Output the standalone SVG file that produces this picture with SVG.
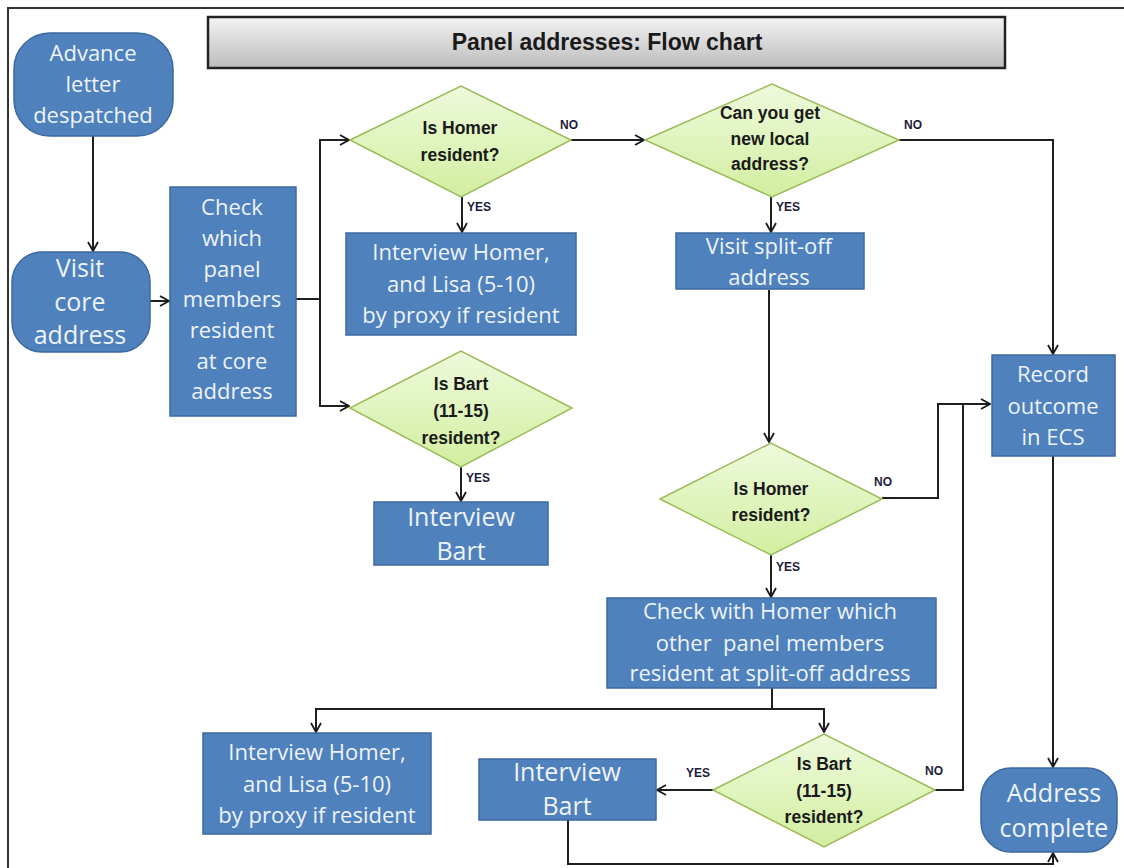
<svg xmlns="http://www.w3.org/2000/svg" width="1124" height="868" viewBox="0 0 1124 868">
<defs>
<linearGradient id="gTitle" x1="0" y1="0" x2="0" y2="1"><stop offset="0" stop-color="#f4f4f4"/><stop offset="1" stop-color="#bcbcbc"/></linearGradient>
<linearGradient id="gDia" x1="0" y1="0" x2="0" y2="1"><stop offset="0" stop-color="#eefadc"/><stop offset="1" stop-color="#d2eea0"/></linearGradient>
<marker id="arr" viewBox="0 0 12 12" refX="11" refY="6" markerWidth="12" markerHeight="12" markerUnits="userSpaceOnUse" orient="auto"><path d="M2,1 L11,6 L2,11" fill="none" stroke="#1a1a1a" stroke-width="1.8"/></marker>
</defs>
<style>
.box{fill:#4f81bd;stroke:#3c6a9f;stroke-width:1.5}
.dia{fill:url(#gDia);stroke:#9bbb59;stroke-width:1.5}
.bt{font-family:"Open Sans","Liberation Sans",Arial,sans-serif;fill:#eef3fa;text-anchor:middle;font-size:22px}
.bt.big{font-size:25px}
.dt{font-family:"Liberation Sans",Arial,sans-serif;fill:#1a1a1a;text-anchor:middle;font-size:17.5px;font-weight:bold}
.lb{font-family:"Liberation Sans",Arial,sans-serif;fill:#1c1c3a;font-size:12px;font-weight:bold}
.cn{fill:none;stroke:#1f1f1f;stroke-width:2}
</style>
<rect width="1124" height="868" fill="#ffffff"/>
<path d="M8,868 L8,8 L1124,8" fill="none" stroke="#333" stroke-width="2"/>
<g id="title">
<rect x="208" y="17" width="797" height="51" fill="url(#gTitle)" stroke="#222" stroke-width="2.5"/>
<text x="607" y="50" font-family="Liberation Sans,Arial,sans-serif" font-size="23" font-weight="bold" fill="#1a1a1a" text-anchor="middle">Panel addresses: Flow chart</text>
</g>
<g id="connectors">
<line class="cn" x1="93" y1="136" x2="93" y2="251" marker-end="url(#arr)"/>
<line class="cn" x1="150" y1="301" x2="169" y2="301" marker-end="url(#arr)"/>
<line class="cn" x1="296" y1="299" x2="320" y2="299"/>
<path class="cn" d="M349,140 L320,140 L320,406 L349,406" marker-end="url(#arr)"/>
<line class="cn" x1="320" y1="140" x2="349" y2="140" marker-end="url(#arr)"/>
<line class="cn" x1="462" y1="197" x2="462" y2="232" marker-end="url(#arr)"/>
<line class="cn" x1="461" y1="467" x2="461" y2="501" marker-end="url(#arr)"/>
<line class="cn" x1="571" y1="140" x2="644" y2="140" marker-end="url(#arr)"/>
<path class="cn" d="M899,140 L1053,140 L1053,354" marker-end="url(#arr)"/>
<line class="cn" x1="771" y1="197" x2="771" y2="232" marker-end="url(#arr)"/>
<line class="cn" x1="769" y1="290" x2="769" y2="442" marker-end="url(#arr)"/>
<path class="cn" d="M882,498 L938,498 L938,404 L990,404" marker-end="url(#arr)"/>
<line class="cn" x1="771" y1="555" x2="771" y2="597" marker-end="url(#arr)"/>
<path class="cn" d="M772,688 L772,709"/>
<path class="cn" d="M824,709 L316,709 L316,732" marker-end="url(#arr)"/>
<path class="cn" d="M772,709 L824,709 L824,732" marker-end="url(#arr)"/>
<line class="cn" x1="713" y1="790" x2="657" y2="790" marker-end="url(#arr)"/>
<path class="cn" d="M935,790 L963,790 L963,404"/>
<line class="cn" x1="1053" y1="456" x2="1053" y2="767" marker-end="url(#arr)"/>
<path class="cn" d="M568,820 L568,864 L1053,864 L1053,853" marker-end="url(#arr)"/>
</g>
<g id="labels">
<text class="lb" x="560" y="129">NO</text>
<text class="lb" x="904" y="129">NO</text>
<text class="lb" x="467" y="211">YES</text>
<text class="lb" x="776" y="211">YES</text>
<text class="lb" x="466" y="482">YES</text>
<text class="lb" x="874" y="486">NO</text>
<text class="lb" x="776" y="571">YES</text>
<text class="lb" x="686" y="777">YES</text>
<text class="lb" x="925" y="775">NO</text>
</g>
<g id="n-advance">
<rect class="box" x="14" y="33" width="159" height="103" rx="36" ry="36"/>
<text class="bt" x="93" y="61">Advance</text>
<text class="bt" x="93" y="92">letter</text>
<text class="bt" x="93" y="123">despatched</text>
</g>
<g id="n-visit-core">
<rect class="box" x="12" y="252" width="138" height="100" rx="30" ry="30"/>
<text class="bt big" x="80" y="277">Visit</text>
<text class="bt big" x="80" y="311">core</text>
<text class="bt big" x="80" y="344">address</text>
</g>
<g id="n-check">
<rect class="box" x="170" y="187" width="126" height="229"/>
<text class="bt" x="232" y="215">Check</text>
<text class="bt" x="232" y="246">which</text>
<text class="bt" x="232" y="277">panel</text>
<text class="bt" x="232" y="307">members</text>
<text class="bt" x="232" y="338">resident</text>
<text class="bt" x="232" y="369">at core</text>
<text class="bt" x="232" y="399">address</text>
</g>
<g id="d-homer1">
<polygon class="dia" points="350,140 461,86 571,140 461,197"/>
<text class="dt" x="460" y="134">Is Homer</text>
<text class="dt" x="460" y="161">resident?</text>
</g>
<g id="n-int-homer1">
<rect class="box" x="346" y="233" width="230" height="102"/>
<text class="bt" x="461" y="260">Interview Homer,</text>
<text class="bt" x="461" y="292">and Lisa (5-10)</text>
<text class="bt" x="461" y="323">by proxy if resident</text>
</g>
<g id="d-bart1">
<polygon class="dia" points="350,408 461,351 572,408 461,467"/>
<text class="dt" x="461" y="390">Is Bart</text>
<text class="dt" x="461" y="417">(11-15)</text>
<text class="dt" x="461" y="444">resident?</text>
</g>
<g id="n-int-bart1">
<rect class="box" x="374" y="502" width="174" height="63"/>
<text class="bt big" x="461" y="526">Interview</text>
<text class="bt big" x="461" y="560">Bart</text>
</g>
<g id="d-local">
<polygon class="dia" points="645,140 772,84 899,140 772,197"/>
<text class="dt" x="770" y="119">Can you get</text>
<text class="dt" x="770" y="145">new local</text>
<text class="dt" x="770" y="170">address?</text>
</g>
<g id="n-visit-split">
<rect class="box" x="676" y="233" width="188" height="56"/>
<text class="bt" x="769" y="254">Visit split-off</text>
<text class="bt" x="769" y="285">address</text>
</g>
<g id="d-homer2">
<polygon class="dia" points="660,499 771,443 882,499 771,555"/>
<text class="dt" x="771" y="495">Is Homer</text>
<text class="dt" x="771" y="521">resident?</text>
</g>
<g id="n-check-homer">
<rect class="box" x="607" y="598" width="329" height="90"/>
<text class="bt" x="770" y="619">Check with Homer which</text>
<text class="bt" x="770" y="651" xml:space="preserve">other  panel members</text>
<text class="bt" x="770" y="681">resident at split-off address</text>
</g>
<g id="n-record">
<rect class="box" x="992" y="355" width="123" height="101"/>
<text class="bt" x="1053" y="382">Record</text>
<text class="bt" x="1053" y="414">outcome</text>
<text class="bt" x="1053" y="445">in ECS</text>
</g>
<g id="n-int-homer2">
<rect class="box" x="203" y="733" width="228" height="101"/>
<text class="bt" x="317" y="760">Interview Homer,</text>
<text class="bt" x="317" y="792">and Lisa (5-10)</text>
<text class="bt" x="317" y="823">by proxy if resident</text>
</g>
<g id="d-bart2">
<polygon class="dia" points="713,790 824,734 935,790 824,847"/>
<text class="dt" x="824" y="770">Is Bart</text>
<text class="dt" x="824" y="797">(11-15)</text>
<text class="dt" x="824" y="823">resident?</text>
</g>
<g id="n-int-bart2">
<rect class="box" x="479" y="759" width="177" height="61"/>
<text class="bt big" x="567" y="781">Interview</text>
<text class="bt big" x="567" y="815">Bart</text>
</g>
<g id="n-complete">
<rect class="box" x="981" y="768" width="136" height="84" rx="30" ry="30"/>
<text class="bt big" x="1054" y="802">Address</text>
<text class="bt big" x="1054" y="837">complete</text>
</g>
</svg>
